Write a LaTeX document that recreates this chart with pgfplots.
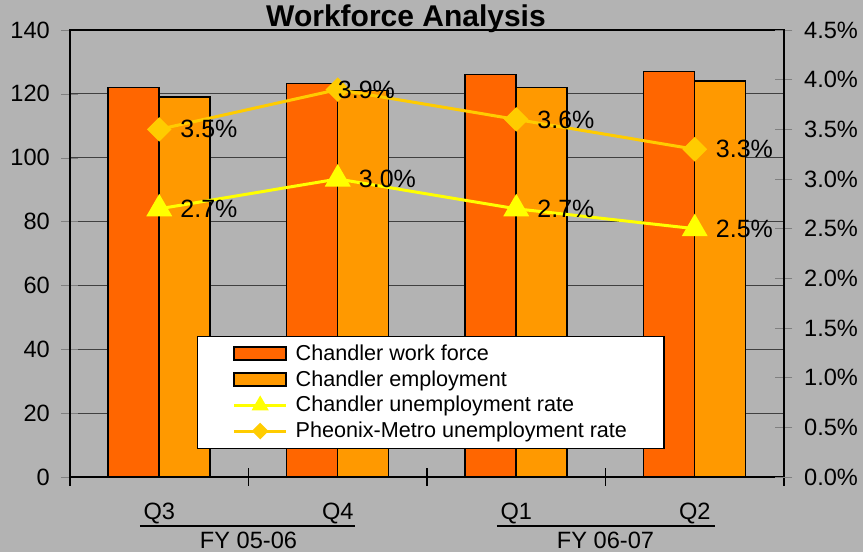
\documentclass[border=0pt]{standalone}
\usepackage{fontspec}
\setmainfont{Liberation Sans}
\usepackage{pgfplots}
\pgfplotsset{compat=1.18}
\definecolor{bgGrey}{RGB}{179,179,179}
\definecolor{clrForce}{RGB}{255,102,0}
\definecolor{clrEmploy}{RGB}{255,153,0}
\definecolor{clrChandler}{RGB}{255,255,0}
\definecolor{clrMetro}{RGB}{255,204,0}
\pgfplotsset{
  rateLegend/.style={legend image code/.code={%
    \draw[##1, mark size=#1, mark repeat=2, mark phase=2]
      plot coordinates {(0pt,0pt) (13pt,0pt) (26pt,0pt)};}},
  barLegend/.style={legend image code/.code={%
    \draw[fill=#1, draw=black, line width=0.75pt] (0pt,-3pt) rectangle (26pt,3.5pt);}},
}

\begin{document}
\begin{tikzpicture}
\fill[bgGrey] (-35pt,-37.5pt) rectangle (396.5pt,238.5pt);
\pgfplotsset{
  every axis/.append style={
    width=357pt, height=223.5pt, scale only axis,
    at={(0,0)}, anchor=south west,
    xmin=-0.5, xmax=3.5,
    tick align=center, major tick length=8.5pt,
    /pgf/number format/assume math mode=true,
    tick label style={font=\fontsize{11.8}{14}\selectfont},
    axis line style={black, line width=0.6pt},
    clip=false,
  }
}
% left axis: head counts as bars
\begin{axis}[
  ymin=0, ymax=140, ytick={0,20,...,140},
  ytick pos=left, xtick pos=bottom,
  ymajorgrids, grid style={black!75, line width=0.5pt},
  yticklabel style={xshift=-2.3pt},
  xtick={-0.5,0.5,1.5,2.5,3.5}, xticklabels={},
  xtick style={black, line width=0.6pt},
  extra x ticks={0,1,2,3}, extra x tick labels={Q3,Q4,Q1,Q2},
  extra x tick style={major tick length=0pt,
    xticklabel style={anchor=base, yshift=-21pt}},
  bar width=25.5pt,
]
\addplot[ybar, bar shift=-12.75pt, fill=clrForce, draw=black, line width=0.75pt]
  coordinates {(0,122) (1,123.3) (2,126) (3,127)};
\addplot[ybar, bar shift=12.75pt, fill=clrEmploy, draw=black, line width=0.75pt]
  coordinates {(0,119) (1,121) (2,122) (3,124)};
% fiscal-year grouping under the quarters
\draw[black, line width=1pt] ([yshift=-24.5pt]axis cs:-0.108,0) -- ([yshift=-24.5pt]axis cs:1.097,0);
\draw[black, line width=1pt] ([yshift=-24.5pt]axis cs:1.892,0) -- ([yshift=-24.5pt]axis cs:3.113,0);
\node[anchor=base, font=\fontsize{11.8}{14}\selectfont] at ([yshift=-35.5pt]axis cs:0.5,0) {FY 05-06};
\node[anchor=base, font=\fontsize{11.8}{14}\selectfont] at ([yshift=-35.5pt]axis cs:2.5,0) {FY 06-07};
\end{axis}
% right axis: unemployment rates
\begin{axis}[
  ymin=0, ymax=4.5, ytick={0,0.5,...,4.5},
  axis y line*=right, hide x axis,
  yticklabel style={xshift=2.3pt},
  yticklabel={\pgfmathprintnumber[fixed,fixed zerofill,precision=1]{\tick}\%},
  point meta=y,
  nodes near coords={\pgfmathprintnumber[fixed,fixed zerofill,precision=1]{\pgfplotspointmeta}\%},
  nodes near coords style={anchor=west, xshift=6.5pt, font=\fontsize{12.5}{14}\selectfont, text=black},
  legend style={at={(0.178,0.315)}, anchor=north west, draw=black, fill=white,
    line width=0.6pt, font=\fontsize{10.8}{13}\selectfont,
    inner xsep=17.5pt, inner ysep=3pt, row sep=1.5pt, column sep=3pt,
    nodes={inner sep=1pt}},
  legend cell align=left,
]
\addlegendimage{barLegend=clrForce}
\addlegendentry{Chandler work force}
\addlegendimage{barLegend=clrEmploy}
\addlegendentry{Chandler employment}
\addplot[color=clrChandler, line width=1.5pt, mark=triangle*, mark size=6pt, rateLegend=3.5pt]
  coordinates {(0,2.7) (1,3.0) (2,2.7) (3,2.5)};
\addlegendentry{Chandler unemployment rate}
\addplot[color=clrMetro, line width=1.5pt, mark=square*, mark size=3.6pt, mark options={rotate=45}, rateLegend=2.2pt,
  coordinate style/.condition={\coordindex==1}{xshift=-10.5pt}]
  coordinates {(0,3.5) (1,3.9) (2,3.6) (3,3.3)};
\addlegendentry{Pheonix-Metro unemployment rate}
\end{axis}
\node[anchor=base, font=\bfseries\fontsize{15}{17}\selectfont] at (168pt,225pt) {Workforce Analysis};
\pgfresetboundingbox
\useasboundingbox (-35pt,-37.5pt) rectangle (396.5pt,238.5pt);
\end{tikzpicture}
\end{document}
